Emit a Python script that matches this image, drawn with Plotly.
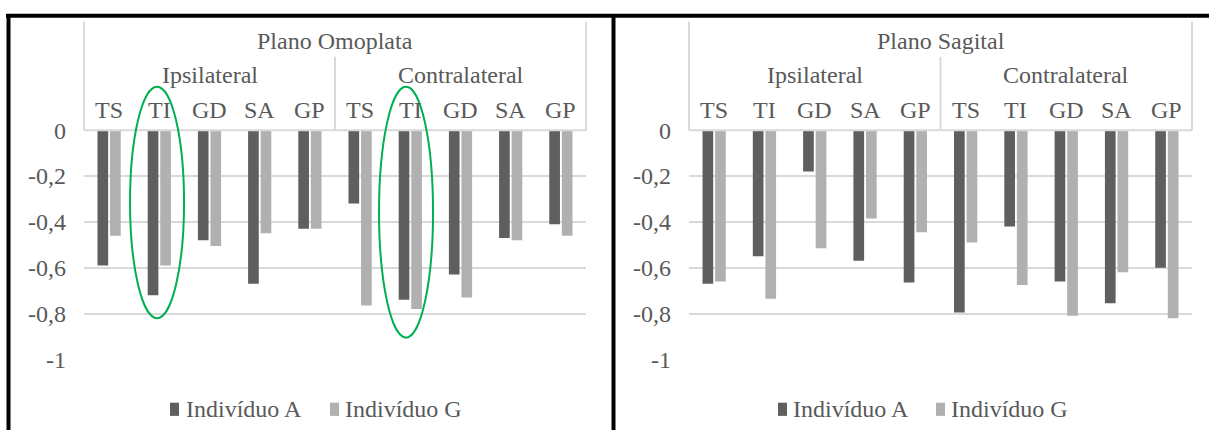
import plotly.graph_objects as go

# ---- data -------------------------------------------------------------
muscles = ["TS", "TI", "GD", "SA", "GP"]
sides = ["Ipsilateral", "Contralateral"]
planes = ["Plano Omoplata", "Plano Sagital"]
series_names = ["Indivíduo A", "Indivíduo G"]

omoplata_a = [-0.59, -0.72, -0.48, -0.67, -0.43, -0.32, -0.74, -0.63, -0.47, -0.41]
omoplata_g = [-0.46, -0.59, -0.505, -0.45, -0.43, -0.765, -0.78, -0.73, -0.48, -0.46]
sagital_a = [-0.67, -0.55, -0.18, -0.57, -0.665, -0.795, -0.42, -0.66, -0.755, -0.60]
sagital_g = [-0.66, -0.735, -0.515, -0.385, -0.445, -0.49, -0.675, -0.81, -0.62, -0.82]

y_ticks = [0, -0.2, -0.4, -0.6, -0.8, -1]
y_ticktext = ["0", "-0,2", "-0,4", "-0,6", "-0,8", "-1"]

# ---- styling ----------------------------------------------------------
W, H = 1209, 443
FONT = "Liberation Serif"
TEXT = "#595959"
DARK = "#5f5f5f"
LIGHT = "#b0b0b0"
GRID = "#d9d9d9"
GREEN = "#00b050"
FS = 24


def px_x(x):
    return x / W


def px_y(y):
    return 1 - y / H


# vertical layout (pixels from top of the figure)
Y_FRAME = 3.0
Y_ZERO = 124.5
Y_MIN = 368.0
Y_LEGEND = 421.0
BOX_TOP = 1.473      # in y-domain units (1 = value 0)
SEP_TOP = 1.32
TITLE_Y = 1.39
SIDE_Y = 1.24
CAT_Y = 1.088

categories = [f"{s}|{m}" for s in sides for m in muscles]
xpos = list(range(len(categories)))
n = len(categories)

fig = go.Figure()

panels = [
    dict(name=planes[0], a=omoplata_a, g=omoplata_g, xa="x", ya="y",
         dom=[px_x(84), px_x(586)], leg=[170, 184, 330, 343]),
    dict(name=planes[1], a=sagital_a, g=sagital_g, xa="x2", ya="y2",
         dom=[px_x(689), px_x(1192)], leg=[778, 791, 936, 949]),
]

shapes = []
annotations = []
txt = dict(family=FONT, size=FS, color=TEXT)

for p in panels:
    colors = (DARK, LIGHT)
    for k, vals in enumerate((p["a"], p["g"])):
        fig.add_trace(go.Bar(
            x=xpos, y=vals, name=series_names[k],
            marker=dict(color=colors[k], line=dict(width=0)),
            xaxis=p["xa"], yaxis=p["ya"], showlegend=False,
        ))

    xd = p["xa"] + " domain"
    yd = p["ya"] + " domain"
    # category-axis box lines
    shapes.append(dict(type="line", xref=xd, yref=yd, x0=0, x1=1, y0=1, y1=1,
                       line=dict(color=GRID, width=2), layer="above"))
    for edge, top in ((0, BOX_TOP), (1, BOX_TOP), (0.5, SEP_TOP)):
        shapes.append(dict(type="line", xref=xd, yref=yd, x0=edge, x1=edge,
                           y0=1, y1=top, line=dict(color=GRID, width=2)))
    # multi-level category labels
    annotations.append(dict(text=p["name"], xref=xd, yref=yd, x=0.5, y=TITLE_Y,
                            xanchor="center", yanchor="middle", showarrow=False, font=txt))
    for k, s in enumerate(sides):
        annotations.append(dict(text=s, xref=xd, yref=yd, x=0.25 + 0.5 * k, y=SIDE_Y,
                                xanchor="center", yanchor="middle", showarrow=False, font=txt))
    for i, c in enumerate(categories):
        annotations.append(dict(text=c.split("|")[1], xref=p["xa"], yref=yd, x=xpos[i],
                                y=CAT_Y, xanchor="center", yanchor="middle",
                                showarrow=False, font=txt))
    # legend: colour square + series name
    sq1, t1, sq2, t2 = p["leg"]
    for sx, tx, color, label in ((sq1, t1, DARK, series_names[0]),
                                 (sq2, t2, LIGHT, series_names[1])):
        shapes.append(dict(type="rect", xref="paper", yref="paper",
                           x0=px_x(sx), x1=px_x(sx + 9),
                           y0=px_y(Y_LEGEND + 7), y1=px_y(Y_LEGEND - 7),
                           fillcolor=color, line=dict(width=0)))
        annotations.append(dict(text=label, xref="paper", yref="paper", x=px_x(tx),
                                y=px_y(Y_LEGEND), xanchor="left", yanchor="middle",
                                showarrow=False, font=txt))

# highlight ellipses around TI on the Omoplata plane (category, dx, top, bottom)
for idx, dx, top, bottom in ((1, -0.045, 0.19, -0.82), (6, -0.085, 0.19, -0.905)):
    cx = (idx + dx + 0.5) / n
    shapes.append(dict(type="circle", xref="x domain", yref="y domain",
                       x0=cx - 0.0538, x1=cx + 0.0538, y0=1 + bottom, y1=1 + top,
                       line=dict(color=GREEN, width=2), layer="above"))

# panel frame
shapes += [
    dict(type="line", xref="paper", yref="paper", x0=px_x(6), x1=1,
         y0=px_y(Y_FRAME), y1=px_y(Y_FRAME), line=dict(color="black", width=4)),
    dict(type="line", xref="paper", yref="paper", x0=px_x(8.5), x1=px_x(8.5),
         y0=0, y1=px_y(Y_FRAME - 2), line=dict(color="black", width=4)),
    dict(type="line", xref="paper", yref="paper", x0=px_x(613.5), x1=px_x(613.5),
         y0=0, y1=px_y(Y_FRAME - 2), line=dict(color="black", width=4)),
]

axis_common = dict(range=[-0.5, n - 0.5], showticklabels=False, showgrid=False,
                   zeroline=False, showline=False, fixedrange=True)
yaxis_common = dict(range=[-1, 0], tickvals=y_ticks, ticktext=y_ticktext,
                    showgrid=True, gridcolor=GRID, gridwidth=2, zeroline=False,
                    showline=False, ticks="", ticklabelstandoff=17,
                    tickfont=txt, domain=[px_y(Y_MIN), px_y(Y_ZERO)], fixedrange=True)

fig.update_layout(
    width=W, height=H, margin=dict(l=0, r=0, t=0, b=0),
    paper_bgcolor="white", plot_bgcolor="white", showlegend=False,
    barmode="group", bargap=0.5, bargroupgap=0.15,
    xaxis=dict(domain=panels[0]["dom"], anchor="y", **axis_common),
    xaxis2=dict(domain=panels[1]["dom"], anchor="y2", **axis_common),
    yaxis=dict(anchor="x", **yaxis_common),
    yaxis2=dict(anchor="x2", **yaxis_common),
    shapes=shapes, annotations=annotations,
)

fig.write_html("out.html")
